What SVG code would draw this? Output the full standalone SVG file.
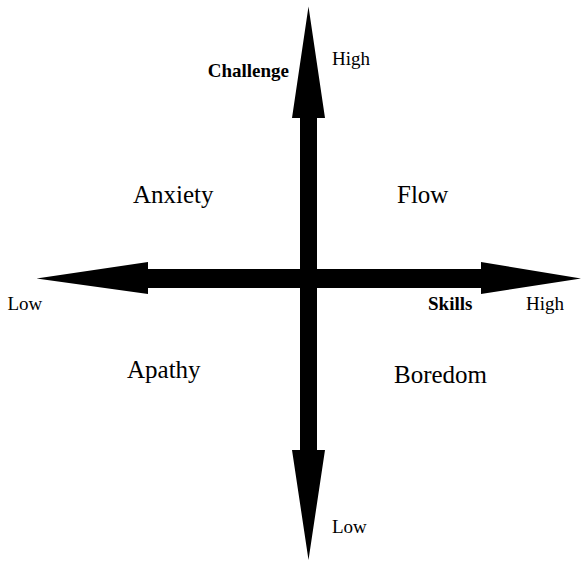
<svg xmlns="http://www.w3.org/2000/svg" width="582" height="561" viewBox="0 0 582 561" font-family="'Liberation Serif', 'Times New Roman', 'DejaVu Serif', serif">
<style>
text{font-family:'Liberation Serif','Times New Roman','DejaVu Serif',serif;fill:#000}
.big{font-size:25px}
.small{font-size:19px}
.bold{font-weight:bold}
.ax{fill:#000;stroke:none}
</style>
<rect x="0" y="0" width="582" height="561" fill="#fff"/>
<g id="connectors">
<polygon class="ax" points="300,118 292,118 308.5,6.5 325,118 317,118 317,450 325,450 308.5,560 292,450 300,450"/>
<polygon class="ax" points="148,269 148,262 36.5,278.5 148,294 148,288 481,288 481,294 581,278.5 481,262 481,269"/>
</g>
<g id="axis-challenge"><text class="small bold" x="289" y="77" text-anchor="end">Challenge</text></g>
<g id="challenge-high"><text class="small" x="332" y="65">High</text></g>
<g id="challenge-low"><text class="small" x="332" y="533">Low</text></g>
<g id="axis-skills"><text class="small bold" x="428" y="310">Skills</text></g>
<g id="skills-high"><text class="small" x="526" y="310">High</text></g>
<g id="skills-low"><text class="small" x="7.5" y="310">Low</text></g>
<g id="anxiety"><text class="big" x="133" y="203">Anxiety</text></g>
<g id="flow"><text class="big" x="397" y="203">Flow</text></g>
<g id="apathy"><text class="big" x="127" y="378">Apathy</text></g>
<g id="boredom"><text class="big" x="394" y="383">Boredom</text></g>
</svg>
